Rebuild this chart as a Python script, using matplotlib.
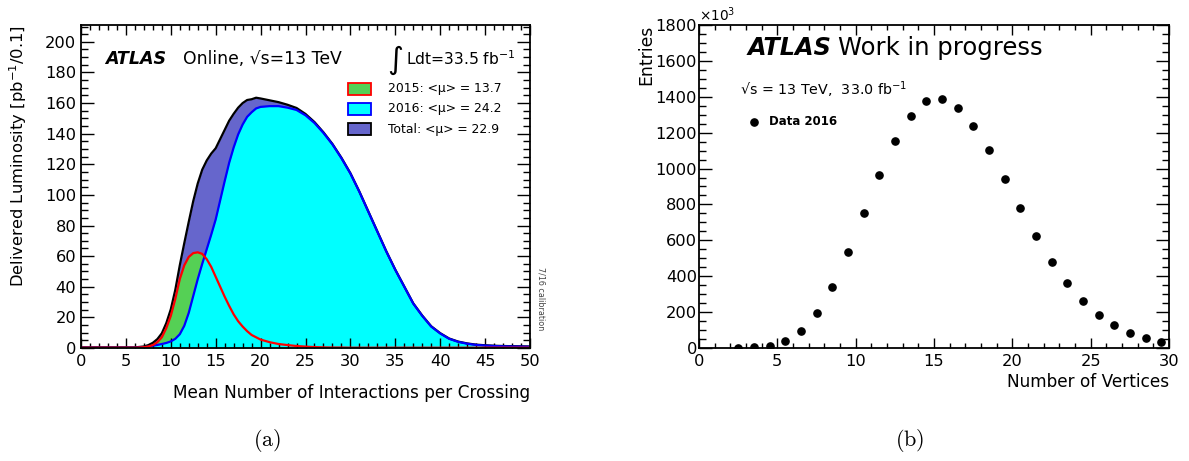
import numpy as np
import matplotlib
matplotlib.use("Agg")
import matplotlib.pyplot as plt
from matplotlib.patches import Rectangle
from matplotlib.ticker import MultipleLocator

plt.rcParams['font.family'] = ['DejaVu Sans']
plt.rcParams['mathtext.fontset'] = 'dejavusans'

# (a) delivered luminosity vs <mu>; finer sampling where the curves are steep
mu = [0, 1, 2, 3, 4, 5, 6, 7, 7.5, 8, 8.5, 9, 9.5, 10, 10.5, 11, 11.5, 12, 12.5, 13,
      13.5, 14, 14.5, 15, 15.5, 16, 16.5, 17, 17.5, 18, 18.5, 19, 19.5, 20,
      21, 22, 23, 24, 25, 26, 27, 28, 29, 30, 31, 32, 33, 34, 35, 36, 37, 38, 39, 40,
      41, 42, 43, 44, 45, 46, 47, 48, 49, 50]
lumi_2015 = [0.2, 0.2, 0.2, 0.2, 0.2, 0.2, 0.2, 0.5, 1.0, 1.9, 3.8, 7, 13, 21, 32, 45, 54, 59.5, 62, 62.5,
             61.5, 58, 53, 46.5, 40, 33.5, 27.5, 22, 17.5, 14, 11, 8.5, 7, 5.5,
             3.8, 2.6, 1.9, 1.3, 0.9, 0.6, 0.4, 0.3, 0.3, 0.2, 0.2, 0.2, 0.2, 0.2, 0.2, 0.2, 0.2, 0.2, 0.2, 0.2,
             0.2, 0.2, 0.2, 0.2, 0.2, 0.2, 0.2, 0.2, 0.2, 0.2]
lumi_2016 = [0.2, 0.2, 0.2, 0.2, 0.2, 0.2, 0.2, 0.5, 0.9, 1.5, 2.0, 2.6, 3.3, 4.3, 6, 9, 14.5, 23, 34, 45,
             55, 64.5, 74, 84, 96.5, 109, 121, 131, 139.5, 146, 151, 154, 156.5, 157.5,
             158, 158, 157, 155.5, 152, 147, 140.5, 133, 124, 114, 102, 89, 76, 63, 51, 40, 29, 21, 14, 9.5,
             6, 4, 2.8, 2, 1.6, 1.3, 1.1, 1.0, 0.9, 0.8]
lumi_total = np.array(lumi_2015) + np.array(lumi_2016)

# (b) number of reconstructed vertices, entries in units of 10^3
nvtx = np.arange(2.5, 30, 1.0)
entries = [2, 3, 10, 39, 97, 195, 340, 535, 750, 965, 1155, 1292, 1375, 1385,
           1335, 1238, 1102, 942, 779, 624, 480, 360, 260, 184, 126, 84, 56, 33]

W, H = 1189, 461
fig = plt.figure(figsize=(W / 100, H / 100), dpi=100)


def axes_px(left, top, right, bottom):
    return fig.add_axes([left / W, 1 - bottom / H, (right - left) / W, (bottom - top) / H])


def root_ticks(ax, xmaj, xmin, ymaj, ymin, ypad):
    ax.xaxis.set_major_locator(MultipleLocator(xmaj))
    ax.xaxis.set_minor_locator(MultipleLocator(xmin))
    ax.yaxis.set_major_locator(MultipleLocator(ymaj))
    ax.yaxis.set_minor_locator(MultipleLocator(ymin))
    ax.tick_params(which='both', direction='in', top=True, right=True, width=1.0,
                   labelsize=11.7)
    ax.tick_params(axis='x', which='major', length=7, pad=4)
    ax.tick_params(axis='x', which='minor', length=3.5)
    ax.tick_params(axis='y', which='major', length=9.5, pad=ypad)
    ax.tick_params(axis='y', which='minor', length=4.75)
    for s in ax.spines.values():
        s.set_linewidth(1.3)


# ---- panel (a) ----
ax1 = axes_px(81, 25, 530, 348)
ax1.fill_between(mu, 0, lumi_total, color='#6666cc', lw=0)
ax1.fill_between(mu, 0, lumi_2015, color='#55d055', lw=0)
ax1.fill_between(mu, 0, lumi_2016, color='#00ffff', lw=0)
ax1.plot(mu, lumi_total, color='black', lw=1.6)
ax1.plot(mu, lumi_2016, color='blue', lw=1.6)
ax1.plot(mu, lumi_2015, color='red', lw=1.6)
ax1.set_xlim(0, 50)
ax1.set_ylim(0, 211)
root_ticks(ax1, 5, 1, 20, 5, 3.5)

ax1.set_xlabel('Mean Number of Interactions per Crossing', fontsize=12.2, ha='right', va='center')
ax1.xaxis.set_label_coords(1.0, -0.139)
ax1.set_ylabel('Delivered Luminosity [pb$^{-1}$/0.1]', fontsize=11.8, ha='right', va='center')
ax1.yaxis.set_label_coords(-0.140, 1.0)

ax1.text(0.053, 0.895, 'ATLAS', transform=ax1.transAxes, fontsize=12.6, fontweight='bold',
         fontstyle='italic', va='center')
ax1.text(0.227, 0.895, 'Online, √s=13 TeV', transform=ax1.transAxes, fontsize=12.4, va='center')
ax1.text(0.967, 0.895, 'Ldt=33.5 fb$^{-1}$', transform=ax1.transAxes, fontsize=11.2,
         va='center', ha='right')
ax1.text(0.718, 0.89, '∫', transform=ax1.transAxes, fontsize=22, va='center', ha='right')

legend_rows = [('2015: <μ> = 13.7', '#55d055', 'red'),
               ('2016: <μ> = 24.2', '#00ffff', 'blue'),
               ('Total: <μ> = 22.9', '#6666cc', 'black')]
for i, (label, face, edge) in enumerate(legend_rows):
    yc = 0.802 - i * 0.062
    ax1.add_patch(Rectangle((0.595, yc - 0.018), 0.051, 0.036, transform=ax1.transAxes,
                            facecolor=face, edgecolor=edge, lw=1.3))
    ax1.text(0.684, yc, label, transform=ax1.transAxes, fontsize=8.9, va='center')

fig.text(541 / W, 1 - 299 / H, '7/16 calibration', rotation=-90, fontsize=5.8, color='#444444',
         ha='center', va='center')

# ---- panel (b) ----
ax2 = axes_px(699, 25, 1169, 348)
ax2.plot(nvtx, entries, 'o', color='black', ms=5.2)
ax2.set_xlim(0, 30)
ax2.set_ylim(0, 1800)
root_ticks(ax2, 5, 1, 200, 50, 1.5)

ax2.set_xlabel('Number of Vertices', fontsize=12.2, ha='right', va='center')
ax2.xaxis.set_label_coords(1.0, -0.105)
ax2.set_ylabel('Entries', fontsize=12.4, ha='right', va='center')
ax2.yaxis.set_label_coords(-0.113, 1.0)
fig.text(699 / W, 1 - 15 / H, '×10$^{3}$', fontsize=9.8, va='center')

ax2.text(0.104, 0.929, 'ATLAS', transform=ax2.transAxes, fontsize=17.3, fontweight='bold',
         fontstyle='italic', va='center')
ax2.text(0.296, 0.929, 'Work in progress', transform=ax2.transAxes, fontsize=17.5, va='center')
ax2.text(0.087, 0.799, '√s = 13 TeV,  33.0 fb$^{-1}$', transform=ax2.transAxes,
         fontsize=10.3, va='center')
ax2.plot([0.117], [0.700], 'o', color='black', ms=5.2, transform=ax2.transAxes)
ax2.text(0.149, 0.700, 'Data 2016', transform=ax2.transAxes, fontsize=8.5, fontweight='bold',
         va='center')

# sub-figure captions
fig.text(267 / W, 1 - 440 / H, '$\\mathrm{(a)}$', fontsize=16, ha='center', va='center',
         math_fontfamily='cm')
fig.text(910 / W, 1 - 440 / H, '$\\mathrm{(b)}$', fontsize=16, ha='center', va='center',
         math_fontfamily='cm')

fig.savefig('out.png', dpi=100)
